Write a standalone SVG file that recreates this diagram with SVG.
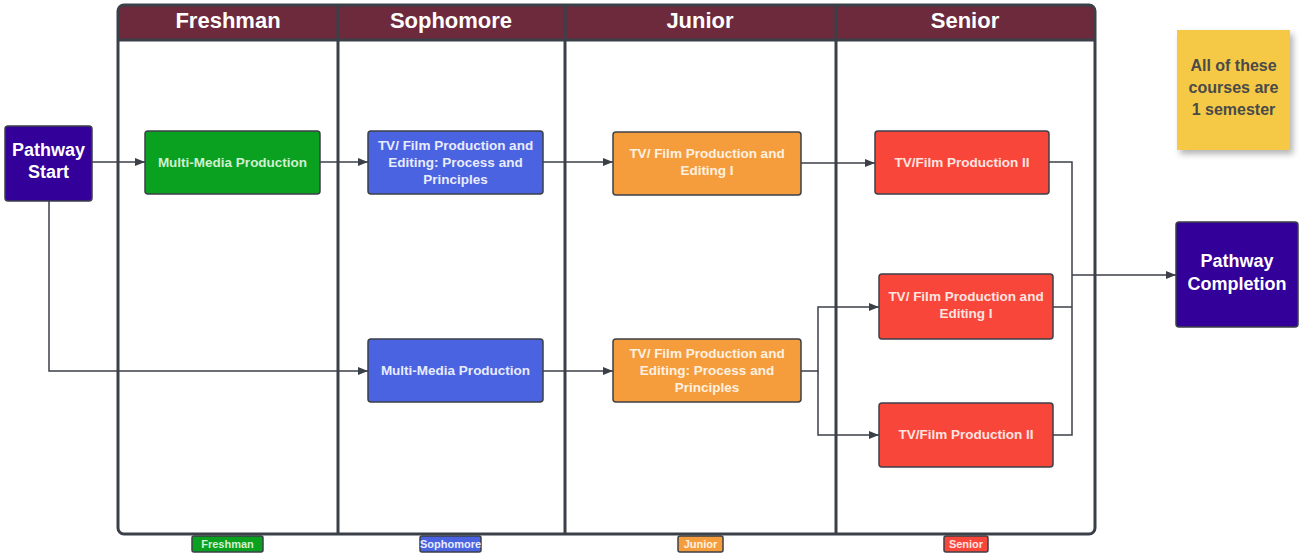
<svg xmlns="http://www.w3.org/2000/svg" width="1304" height="556" viewBox="0 0 1304 556">
<defs>
<marker id="arr" viewBox="0 0 10 10" refX="10" refY="5" markerWidth="10" markerHeight="10" markerUnits="userSpaceOnUse" orient="auto"><path d="M0,1 L10,5 L0,9 Z" fill="#3b4048"/></marker>
<filter id="sh" x="-20%" y="-20%" width="150%" height="150%"><feDropShadow dx="3" dy="4" stdDeviation="3" flood-color="#000" flood-opacity="0.3"/></filter>
</defs>
<style>
text{font-family:"Liberation Sans",Arial,sans-serif;font-weight:bold;text-anchor:middle}
.hdr{fill:#ffffff;font-size:22px}
.node{stroke:#3b4048;stroke-width:1.5}
.nt{font-size:13.5px}
.big{font-size:18px;fill:#ffffff}
.conn{fill:none;stroke:#3b4048;stroke-width:1.5}
.lane{stroke:#3b4048;stroke-width:3;fill:none}
.tag{font-size:11px}
</style>
<g id="swimlane">
<rect x="118" y="5" width="977" height="529" rx="6" fill="#ffffff"/>
<path d="M118,40 V11 a6,6 0 0 1 6,-6 H1089 a6,6 0 0 1 6,6 V40 Z" fill="#6d2a3c"/>
<rect x="118" y="5" width="977" height="529" rx="6" class="lane"/>
<line x1="118" y1="40" x2="1095" y2="40" class="lane"/>
<line x1="338" y1="5" x2="338" y2="534" class="lane"/>
<line x1="565" y1="5" x2="565" y2="534" class="lane"/>
<line x1="836" y1="5" x2="836" y2="534" class="lane"/>
<text class="hdr" x="228" y="28">Freshman</text>
<text class="hdr" x="451" y="28">Sophomore</text>
<text class="hdr" x="700" y="28">Junior</text>
<text class="hdr" x="965" y="28">Senior</text>
</g>
<g id="connectors">
<line x1="92" y1="162" x2="145" y2="162" class="conn" marker-end="url(#arr)"/>
<polyline points="49,201 49,371 368,371" class="conn" marker-end="url(#arr)"/>
<line x1="320" y1="162" x2="368" y2="162" class="conn" marker-end="url(#arr)"/>
<line x1="543" y1="162" x2="613" y2="162" class="conn" marker-end="url(#arr)"/>
<line x1="801" y1="163" x2="875" y2="163" class="conn" marker-end="url(#arr)"/>
<line x1="543" y1="371" x2="613" y2="371" class="conn" marker-end="url(#arr)"/>
<polyline points="801,371 818,371 818,307 879,307" class="conn" marker-end="url(#arr)"/>
<polyline points="818,371 818,435 879,435" class="conn" marker-end="url(#arr)"/>
<polyline points="1049,162 1072,162 1072,435 1053,435" class="conn"/>
<line x1="1053" y1="307" x2="1072" y2="307" class="conn"/>
<line x1="1072" y1="275" x2="1176" y2="275" class="conn" marker-end="url(#arr)"/>
</g>
<g id="start">
<rect x="5" y="126" width="87" height="75" rx="3" fill="#330099" class="node"/>
<text class="big" x="48.5" y="156">Pathway</text>
<text class="big" x="48.5" y="178">Start</text>
</g>
<g id="fresh-mm">
<rect x="145" y="131" width="175" height="63" rx="3" fill="#0aa020" class="node"/>
<text class="nt" x="232.5" y="167" fill="#d0f0d0">Multi-Media Production</text>
</g>
<g id="soph-tv">
<rect x="368" y="131" width="175" height="63" rx="3" fill="#4a63e0" class="node"/>
<text class="nt" x="455.5" y="150" fill="#e8ecff">TV/ Film Production and</text>
<text class="nt" x="455.5" y="167" fill="#e8ecff">Editing: Process and</text>
<text class="nt" x="455.5" y="184" fill="#e8ecff">Principles</text>
</g>
<g id="soph-mm">
<rect x="368" y="339" width="175" height="63" rx="3" fill="#4a63e0" class="node"/>
<text class="nt" x="455.5" y="375" fill="#e8ecff">Multi-Media Production</text>
</g>
<g id="jun-tv1">
<rect x="613" y="132" width="188" height="63" rx="3" fill="#f59d3d" class="node"/>
<text class="nt" x="707" y="158" fill="#fff1e0">TV/ Film Production and</text>
<text class="nt" x="707" y="175" fill="#fff1e0">Editing I</text>
</g>
<g id="jun-tvpp">
<rect x="613" y="339" width="188" height="63" rx="3" fill="#f59d3d" class="node"/>
<text class="nt" x="707" y="358" fill="#fff1e0">TV/ Film Production and</text>
<text class="nt" x="707" y="375" fill="#fff1e0">Editing: Process and</text>
<text class="nt" x="707" y="392" fill="#fff1e0">Principles</text>
</g>
<g id="sen-tv2a">
<rect x="875" y="131" width="174" height="63" rx="3" fill="#f8463a" class="node"/>
<text class="nt" x="962" y="167" fill="#ffe4e0">TV/Film Production II</text>
</g>
<g id="sen-tv1">
<rect x="879" y="274" width="174" height="65" rx="3" fill="#f8463a" class="node"/>
<text class="nt" x="966" y="301" fill="#ffe4e0">TV/ Film Production and</text>
<text class="nt" x="966" y="318" fill="#ffe4e0">Editing I</text>
</g>
<g id="sen-tv2b">
<rect x="879" y="403" width="174" height="64" rx="3" fill="#f8463a" class="node"/>
<text class="nt" x="966" y="439" fill="#ffe4e0">TV/Film Production II</text>
</g>
<g id="completion">
<rect x="1176" y="222" width="122" height="105" rx="3" fill="#330099" class="node"/>
<text class="big" x="1237" y="267">Pathway</text>
<text class="big" x="1237" y="290">Completion</text>
</g>
<g id="note">
<rect x="1177" y="30" width="113" height="120" fill="#f5c944" filter="url(#sh)"/>
<text x="1233.5" y="71" font-size="16" fill="#4a4a4a">All of these</text>
<text x="1233.5" y="93" font-size="16" fill="#4a4a4a">courses are</text>
<text x="1233.5" y="115" font-size="16" fill="#4a4a4a">1 semester</text>
</g>
<g id="tags">
<rect x="192" y="536" width="71" height="16" rx="2" fill="#0aa020" class="node"/>
<text class="tag" x="227.5" y="548" fill="#d0f0d0">Freshman</text>
<rect x="420" y="536" width="61" height="16" rx="2" fill="#4a63e0" class="node"/>
<text class="tag" x="450.5" y="548" fill="#e8ecff">Sophomore</text>
<rect x="678" y="536" width="45" height="16" rx="2" fill="#f59d3d" class="node"/>
<text class="tag" x="700.5" y="548" fill="#fff1e0">Junior</text>
<rect x="944" y="536" width="44" height="16" rx="2" fill="#f8463a" class="node"/>
<text class="tag" x="966" y="548" fill="#ffe4e0">Senior</text>
</g>
</svg>
